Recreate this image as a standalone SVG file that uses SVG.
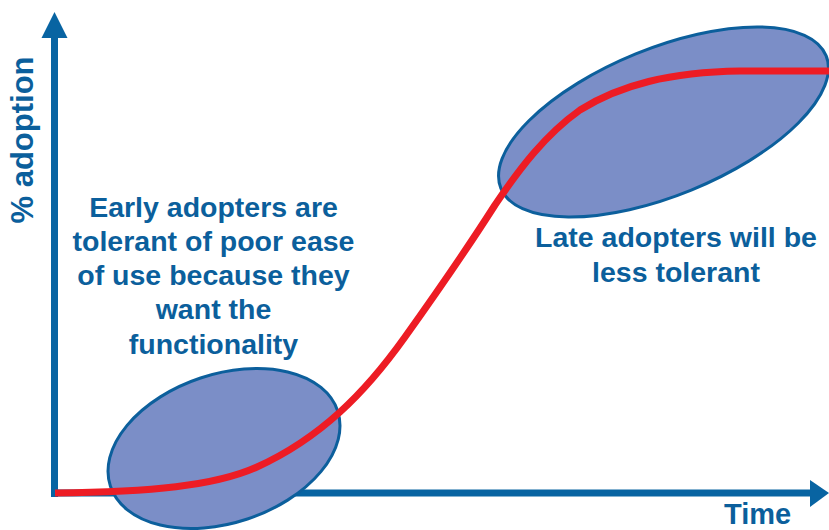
<svg xmlns="http://www.w3.org/2000/svg" width="829" height="530" viewBox="0 0 829 530">
  <style>
    .lbl { font-family: "Liberation Sans", Arial, sans-serif; font-weight: bold; fill: #0b5f9c; }
    .body { font-size: 28.5px; text-anchor: middle; }
    .axis { stroke: #0864a2; stroke-width: 7; fill: none; }
    .head { fill: #0864a2; }
    .blob { fill: #7b8ec7; stroke: #0c5f9c; stroke-width: 3; }
    .curve { fill: none; stroke: #ed1c24; stroke-width: 7; stroke-linejoin: round; }
  </style>
  <rect width="829" height="530" fill="#ffffff"/>

  <g id="axes">
    <line class="axis" x1="54.5" y1="34" x2="54.5" y2="497"/>
    <polygon class="head" points="41.5,38 67.5,38 54.5,12"/>
    <line class="axis" x1="51" y1="493" x2="812" y2="493"/>
    <polygon class="head" points="810,480 810,507 829,493"/>
  </g>

  <g id="early-ellipse">
    <ellipse class="blob" cx="224" cy="448.5" rx="119.7" ry="74.3" transform="rotate(-18.4 224 448.5)"/>
  </g>
  <g id="late-ellipse">
    <ellipse class="blob" cx="663.5" cy="122" rx="175.6" ry="73.5" transform="rotate(-22.2 663.5 122)"/>
  </g>

  <g id="connectors">
    <path class="curve" d="M55,493 C150,492 215,486 257,467 C290,452 318,432 340,412 C362,392 385,365 405,337 C430,302 465,252 495,205 C520,168 545,135 580,110 C620,85 670,72 740,71 L829,71"/>
  </g>

  <g id="y-label">
    <text class="lbl" font-size="31" text-anchor="middle" transform="translate(33 140) rotate(-90)">% adoption</text>
  </g>
  <g id="x-label">
    <text class="lbl" font-size="29" x="724" y="524">Time</text>
  </g>

  <g id="early-text">
    <text class="lbl body" x="213.5" y="217">Early adopters are</text>
    <text class="lbl body" x="213.5" y="251">tolerant of poor ease</text>
    <text class="lbl body" x="213.5" y="284.5">of use because they</text>
    <text class="lbl body" x="213.5" y="319">want the</text>
    <text class="lbl body" x="213.5" y="354">functionality</text>
  </g>

  <g id="late-text">
    <text class="lbl body" x="676" y="247">Late adopters will be</text>
    <text class="lbl body" x="676" y="282">less tolerant</text>
  </g>
</svg>
